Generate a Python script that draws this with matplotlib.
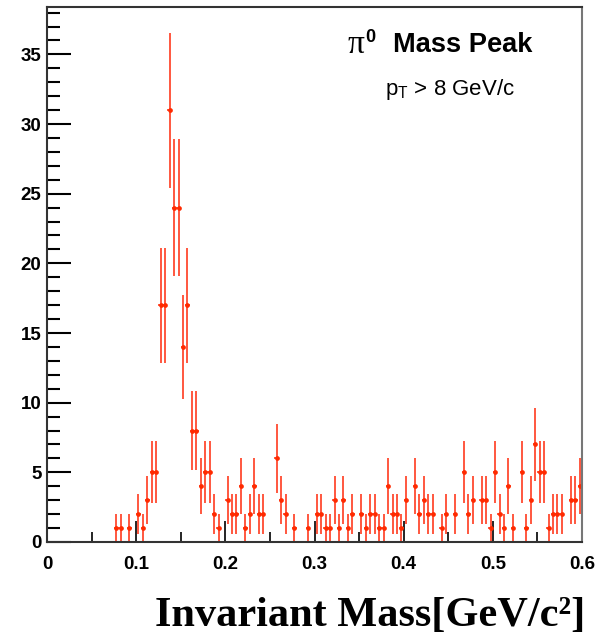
import numpy as np
import matplotlib.pyplot as plt
from matplotlib.ticker import MultipleLocator

# histogram: 120 bins of 0.005 GeV/c^2 from 0 to 0.6
bin_width = 0.005
bin_edges_lo = 0.0
counts = [0, 0, 0, 0, 0, 0, 0, 0, 0, 0,
          0, 0, 0, 0, 0, 1, 1, 0, 1, 0,
          2, 1, 3, 5, 5, 17, 17, 31, 24, 24,
          14, 17, 8, 8, 4, 5, 5, 2, 1, 0,
          3, 2, 2, 4, 1, 2, 4, 2, 2, 0,
          0, 6, 3, 2, 0, 1, 0, 0, 1, 0,
          2, 2, 1, 1, 3, 1, 3, 1, 2, 0,
          2, 1, 2, 2, 1, 1, 4, 2, 2, 1,
          3, 0, 4, 2, 3, 2, 2, 0, 1, 2,
          0, 2, 0, 5, 2, 3, 0, 3, 3, 1,
          5, 2, 1, 4, 1, 0, 5, 1, 3, 7,
          5, 5, 1, 2, 2, 2, 0, 3, 3, 4]

x_ticks = [0, 0.1, 0.2, 0.3, 0.4, 0.5, 0.6]
x_ticklabels = ['0', '0.1', '0.2', '0.3', '0.4', '0.5', '0.6']
y_ticks = [0, 5, 10, 15, 20, 25, 30, 35]

counts = np.array(counts, dtype=float)
centers = bin_edges_lo + (np.arange(len(counts)) + 0.5) * bin_width
mask = counts > 0
x = centers[mask]
y = counts[mask]
yerr = np.sqrt(y)

W, H = 599, 640
sans = ['Liberation Sans Narrow', 'Liberation Sans', 'DejaVu Sans']


def fx(px):
    return px / W


def fy(py):
    return 1 - py / H


fig = plt.figure(figsize=(W / 100, H / 100), dpi=100)
ax = fig.add_axes([fx(47), fy(542), (582 - 47) / W, (542 - 7) / H])

ax.errorbar(x, y, yerr=yerr, xerr=bin_width / 2, fmt='o', ms=3.4,
            color='#ff2a00', ecolor='#ff4a30', elinewidth=1.3, capsize=0,
            mew=0)

ax.set_xlim(0, 0.6)
ax.set_ylim(0, 38.4)
ax.set_xticks(x_ticks)
ax.set_xticklabels(x_ticklabels)
ax.set_yticks(y_ticks)
ax.xaxis.set_minor_locator(MultipleLocator(0.05))
ax.yaxis.set_minor_locator(MultipleLocator(1))

ax.tick_params(axis='x', which='major', direction='in', length=15, width=1.2,
               top=False, pad=10, labelsize=13.5)
ax.tick_params(axis='x', which='minor', direction='in', length=7, width=1.2,
               top=False)
ax.tick_params(axis='y', which='major', direction='in', length=17, width=1.5,
               right=False, pad=4, labelsize=13.5)
ax.tick_params(axis='y', which='minor', direction='in', length=9, width=1.5,
               right=False)
for lab in ax.get_xticklabels() + ax.get_yticklabels():
    lab.set_family(sans)
    lab.set_fontweight('bold')

for sp in ax.spines.values():
    sp.set_color('#333333')
    sp.set_linewidth(1.5)
ax.spines['right'].set_color('#777777')

# label block in the top right corner
fig.text(fx(347), fy(53), 'π', family='Liberation Serif', fontsize=24,
         ha='left', va='baseline')
fig.text(fx(365), fy(42), '0', family=sans, fontsize=13, fontweight='bold',
         ha='left', va='baseline')
fig.text(fx(393), fy(52), 'Mass Peak', family=sans, fontsize=19.6,
         fontweight='bold', ha='left', va='baseline')
fig.text(fx(385), fy(95), r'p$_\mathregular{T}$ > 8 GeV/c', family=sans,
         fontsize=16, ha='left', va='baseline')

fig.text(fx(585), fy(626), 'Invariant Mass[GeV/c²]',
         family='Liberation Serif', fontweight='bold', fontsize=30.5,
         ha='right', va='baseline')

fig.savefig('out.png', dpi=100)
